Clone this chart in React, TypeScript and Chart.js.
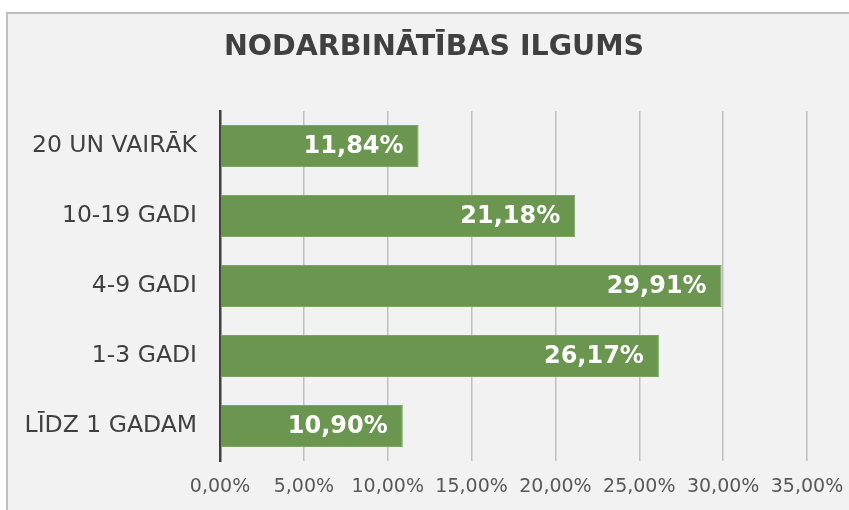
import React, { useEffect, useRef } from "react";
import { Chart, registerables } from "chart.js";

Chart.register(...registerables);

const categories = ["20 UN VAIRĀK", "10-19 GADI", "4-9 GADI", "1-3 GADI", "LĪDZ 1 GADAM"];
const values = [11.84, 21.18, 29.91, 26.17, 10.9];
const titleText = "NODARBINĀTĪBAS ILGUMS";
const xMin = 0;
const xMax = 35;
const xStep = 5;

const FONT = "'DejaVu Sans'";
const fmt = (v: number) => v.toFixed(2).replace(".", ",") + "%";

const labelPlugin = {
  id: "barLabels",
  afterDatasetsDraw(chart: any) {
    const { ctx } = chart;
    const meta = chart.getDatasetMeta(0);
    ctx.save();
    ctx.font = `bold 24px ${FONT}`;
    ctx.fillStyle = "#ffffff";
    ctx.textAlign = "right";
    ctx.textBaseline = "middle";
    meta.data.forEach((el: any, i: number) => {
      ctx.fillText(fmt(values[i]), el.x - 15, el.y + 1);
    });
    ctx.restore();
  },
};

const titlePlugin = {
  id: "centerTitle",
  afterDraw(chart: any) {
    const { ctx } = chart;
    ctx.save();
    ctx.font = `bold 28.5px ${FONT}`;
    ctx.fillStyle = "#404040";
    ctx.textAlign = "center";
    ctx.textBaseline = "middle";
    ctx.fillText(titleText, 434, 48);
    ctx.restore();
  },
};

export default function App() {
  const ref = useRef<HTMLCanvasElement>(null);
  useEffect(() => {
    if (!ref.current) return;
    const chart = new Chart(ref.current, {
      type: "bar",
      data: {
        labels: categories,
        datasets: [
          {
            data: values,
            backgroundColor: "#6a9650",
            borderColor: "#7aa562",
            borderWidth: 1,
            categoryPercentage: 0.6,
            barPercentage: 1,
          },
        ],
      },
      options: {
        indexAxis: "y",
        animation: false,
        responsive: false,
        maintainAspectRatio: false,
        layout: { padding: { left: 0, right: 42, top: 111, bottom: 0 } },
        plugins: {
          legend: { display: false },
          tooltip: { enabled: false },
          title: { display: false },
        },
        scales: {
          x: {
            min: xMin,
            max: xMax,
            afterFit: (axis: any) => {
              axis.height = 49;
              axis.paddingLeft = 0;
              axis.paddingRight = 0;
            },
            ticks: {
              stepSize: xStep,
              color: "#595959",
              font: { family: FONT, size: 19 },
              padding: 15,
              maxRotation: 0,
              callback: (v: any) => fmt(Number(v)),
            },
            grid: {
              color: (c: any) => (c.index === 0 ? "rgba(0,0,0,0)" : "#bfbfbf"),
              lineWidth: 1.5,
              drawTicks: false,
            },
            border: { display: false },
          },
          y: {
            afterFit: (axis: any) => {
              axis.width = 220;
            },
            ticks: {
              color: "#404040",
              font: { family: FONT, size: 23.5 },
              padding: 23,
            },
            grid: { display: false, drawTicks: false },
            border: { display: true, color: "#404040", width: 2.5 },
          },
        },
      },
      plugins: [labelPlugin, titlePlugin],
    });
    return () => chart.destroy();
  }, []);

  return (
    <div style={{ position: "fixed", left: 0, top: 0, width: 849, height: 510, background: "#ffffff", overflow: "hidden" }}>
      <div
        style={{
          position: "absolute",
          left: 6,
          top: 12,
          width: 880,
          height: 540,
          border: "2px solid #bfbfbf",
          background: "#f2f2f2",
        }}
      />
      <canvas ref={ref} width={849} height={510} style={{ position: "absolute", left: 0, top: 0, width: 849, height: 510 }} />
    </div>
  );
}
